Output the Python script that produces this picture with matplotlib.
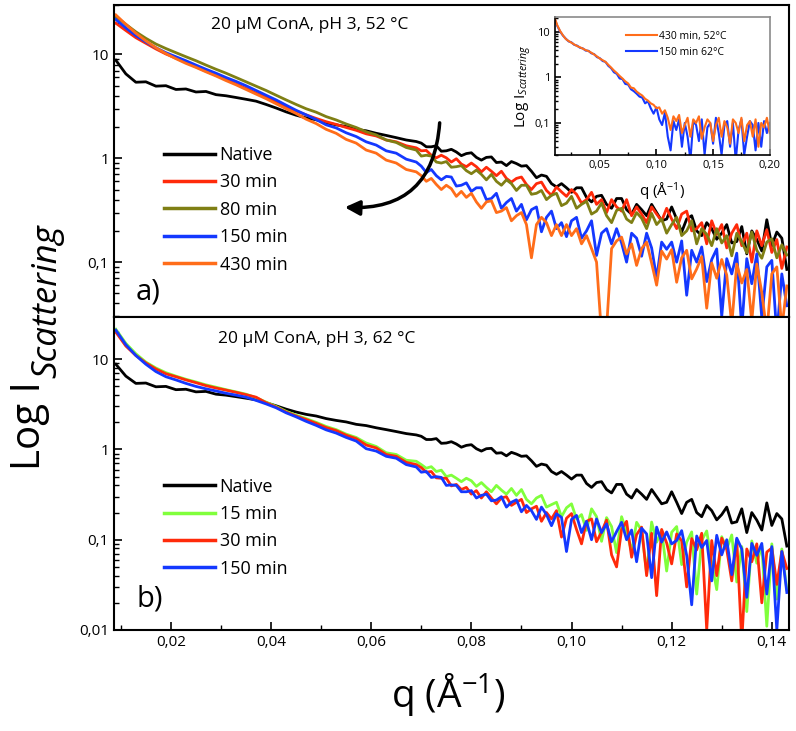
import matplotlib
matplotlib.use("Agg")
import matplotlib.pyplot as plt
import numpy as np
from matplotlib.ticker import LogLocator, FuncFormatter, MultipleLocator, NullFormatter
from matplotlib.patches import FancyArrowPatch

plt.rcParams["font.family"] = "Open Sans"
plt.rcParams["mathtext.fontset"] = "custom"
plt.rcParams["mathtext.rm"] = "Open Sans"
plt.rcParams["mathtext.it"] = "Open Sans:italic"

# q grid of the curves (coarser below 0.07, finer above)
q = np.concatenate([np.linspace(0.009, 0.069, 31), np.linspace(0.070, 0.143, 74)])
q_inset = np.linspace(0.010, 0.200, 77)

native = [8.8, 6.5, 5.4, 5.45, 4.95, 5.0, 4.6, 4.65, 4.35, 4.4, 4.1, 4.0, 3.85, 3.7, 3.55, 3.3,
          3.05, 2.8, 2.6, 2.45, 2.35, 2.2, 2.1, 2.02, 1.9, 1.84, 1.74, 1.66, 1.58, 1.5, 1.45,
          1.40, 1.29, 1.29, 1.32, 1.17, 1.18, 1.22, 1.15, 1.06, 1.11,
          1.13, 1.02, 0.96, 1.02, 1.03, 0.91, 0.92, 0.85, 0.93, 0.89,
          0.84, 0.85, 0.75, 0.65, 0.69, 0.67, 0.57, 0.53, 0.57, 0.52,
          0.47, 0.52, 0.52, 0.42, 0.38, 0.43, 0.44, 0.36, 0.33, 0.41,
          0.41, 0.32, 0.29, 0.36, 0.32, 0.28, 0.36, 0.30, 0.25, 0.26,
          0.34, 0.26, 0.195, 0.26, 0.28, 0.20, 0.18, 0.24, 0.21, 0.166,
          0.19, 0.23, 0.153, 0.158, 0.22, 0.12, 0.20, 0.165, 0.128, 0.256,
          0.144, 0.195, 0.17, 0.085]

# panel a) 52 C
a_30 = [20, 17, 14.5, 12.8, 11.3, 10.1, 9.2, 8.4, 7.6, 6.9, 6.3, 5.75, 5.2, 4.7, 4.25, 3.85,
        3.5, 3.15, 2.85, 2.62, 2.42, 2.25, 2.12, 1.98, 1.86, 1.72, 1.64, 1.5, 1.44, 1.32, 1.26,
        1.18, 1.19, 1.07, 1.01, 1.07, 1.01, 0.92, 0.99, 0.88, 0.83,
        0.90, 0.83, 0.74, 0.82, 0.75, 0.68, 0.75, 0.64, 0.59, 0.64,
        0.66, 0.56, 0.50, 0.57, 0.59, 0.49, 0.44, 0.53, 0.475, 0.43,
        0.50, 0.45, 0.37, 0.40, 0.47, 0.36, 0.40, 0.30, 0.40, 0.34,
        0.31, 0.40, 0.28, 0.34, 0.29, 0.24, 0.34, 0.29, 0.25, 0.33,
        0.26, 0.21, 0.29, 0.31, 0.20, 0.21, 0.24, 0.15, 0.25, 0.185,
        0.23, 0.137, 0.19, 0.23, 0.144, 0.19, 0.10, 0.20, 0.144, 0.205,
        0.124, 0.165, 0.087, 0.14]
a_80 = [23, 19.5, 16.5, 14.3, 12.6, 11.4, 10.4, 9.5, 8.7, 7.9, 7.2, 6.6, 6.0, 5.45, 4.95, 4.5,
        4.05, 3.65, 3.3, 3.0, 2.78, 2.52, 2.34, 2.14, 1.98, 1.8, 1.68, 1.5, 1.42, 1.27, 1.2,
        1.05, 1.07, 1.05, 0.92, 0.90, 0.93, 0.82, 0.83, 0.85, 0.76,
        0.71, 0.77, 0.70, 0.62, 0.70, 0.60, 0.55, 0.62, 0.57, 0.49,
        0.55, 0.55, 0.45, 0.46, 0.49, 0.40, 0.44, 0.46, 0.35, 0.37,
        0.43, 0.33, 0.36, 0.385, 0.29, 0.31, 0.37, 0.28, 0.24, 0.315,
        0.33, 0.26, 0.24, 0.30, 0.265, 0.21, 0.295, 0.23, 0.26, 0.19,
        0.23, 0.27, 0.18, 0.20, 0.25, 0.15, 0.21, 0.185, 0.144, 0.21,
        0.153, 0.18, 0.115, 0.19, 0.157, 0.123, 0.195, 0.13, 0.109, 0.156,
        0.168, 0.11, 0.147, 0.117]
a_150 = [21.7, 18, 15.2, 13.2, 11.6, 10.4, 9.5, 8.7, 7.9, 7.2, 6.6, 6.0, 5.5, 5.0, 4.5, 4.05,
         3.65, 3.25, 2.9, 2.62, 2.36, 2.1, 1.96, 1.76, 1.62, 1.44, 1.34, 1.18, 1.12, 0.98, 0.92,
         0.84, 0.73, 0.78, 0.68, 0.62, 0.67, 0.66, 0.54, 0.55, 0.58,
         0.48, 0.52, 0.52, 0.40, 0.41, 0.46, 0.33, 0.375, 0.41, 0.31,
         0.36, 0.256, 0.32, 0.34, 0.196, 0.27, 0.31, 0.21, 0.24, 0.176,
         0.25, 0.27, 0.17, 0.20, 0.25, 0.116, 0.19, 0.21, 0.15, 0.21,
         0.153, 0.10, 0.19, 0.17, 0.114, 0.19, 0.137, 0.07, 0.156, 0.133,
         0.156, 0.10, 0.16, 0.048, 0.13, 0.10, 0.14, 0.065, 0.106, 0.134,
         0.03, 0.108, 0.077, 0.122, 0.023, 0.108, 0.062, 0.12, 0.029, 0.09,
         0.104, 0.02, 0.077, 0.038]
a_430 = [24, 19.5, 16, 13.5, 11.6, 10.2, 9.1, 8.2, 7.5, 6.8, 6.2, 5.6, 5.1, 4.6, 4.15, 3.75,
         3.35, 3.0, 2.7, 2.38, 2.16, 1.9, 1.74, 1.52, 1.4, 1.2, 1.12, 0.96, 0.9, 0.78, 0.74,
         0.68, 0.60, 0.64, 0.56, 0.50, 0.55, 0.51, 0.43, 0.48, 0.42,
         0.46, 0.38, 0.33, 0.38, 0.39, 0.30, 0.31, 0.335, 0.25, 0.28,
         0.30, 0.23, 0.11, 0.23, 0.27, 0.24, 0.18, 0.23, 0.18, 0.23,
         0.18, 0.21, 0.15, 0.18, 0.135, 0.10, 0.02, 0.023, 0.135, 0.16,
         0.174, 0.12, 0.15, 0.093, 0.135, 0.156, 0.098, 0.06, 0.128, 0.107,
         0.132, 0.064, 0.11, 0.13, 0.069, 0.086, 0.113, 0.036, 0.098, 0.07,
         0.106, 0.075, 0.025, 0.096, 0.063, 0.085, 0.027, 0.096, 0.051, 0.021,
         0.077, 0.09, 0.023, 0.059]

# panel b) 62 C
b_15 = [21.5, 15, 11.5, 9.3, 8.0, 7.1, 6.5, 6.0, 5.6, 5.2, 4.9, 4.6, 4.35, 4.1, 3.75, 3.35,
        3.0, 2.65, 2.4, 2.2, 2.0, 1.8, 1.66, 1.48, 1.36, 1.18, 1.08, 0.92, 0.88, 0.76, 0.74,
        0.68, 0.62, 0.645, 0.57, 0.59, 0.50, 0.52, 0.48, 0.44, 0.48,
        0.45, 0.39, 0.43, 0.38, 0.34, 0.40, 0.355, 0.32, 0.37, 0.31,
        0.36, 0.28, 0.25, 0.29, 0.31, 0.23, 0.245, 0.26, 0.18, 0.226,
        0.25, 0.17, 0.19, 0.127, 0.22, 0.18, 0.096, 0.176, 0.14, 0.072,
        0.18, 0.123, 0.074, 0.156, 0.127, 0.043, 0.157, 0.094, 0.127, 0.045,
        0.121, 0.14, 0.053, 0.094, 0.122, 0.025, 0.098, 0.125, 0.056, 0.028,
        0.108, 0.079, 0.113, 0.034, 0.084, 0.016, 0.097, 0.055, 0.086, 0.011,
        0.09, 0.022, 0.079, 0.028]
b_30 = [20, 14, 11, 9.1, 7.8, 6.9, 6.4, 5.9, 5.5, 5.1, 4.8, 4.55, 4.3, 4.05, 3.8, 3.3,
        2.95, 2.6, 2.35, 2.15, 1.95, 1.75, 1.62, 1.44, 1.32, 1.12, 1.04, 0.88, 0.84, 0.72, 0.68,
        0.63, 0.56, 0.57, 0.485, 0.48, 0.48, 0.395, 0.41, 0.36, 0.38,
        0.32, 0.35, 0.29, 0.34, 0.29, 0.25, 0.29, 0.30, 0.24, 0.26,
        0.28, 0.20, 0.22, 0.235, 0.16, 0.20, 0.17, 0.21, 0.107, 0.173,
        0.195, 0.13, 0.09, 0.16, 0.17, 0.095, 0.122, 0.165, 0.068, 0.05,
        0.13, 0.16, 0.064, 0.114, 0.138, 0.04, 0.118, 0.024, 0.13, 0.092,
        0.054, 0.116, 0.097, 0.03, 0.103, 0.077, 0.118, 0.01, 0.098, 0.04,
        0.104, 0.078, 0.035, 0.10, 0.0074, 0.079, 0.057, 0.09, 0.02, 0.073,
        0.081, 0.032, 0.074, 0.048]
b_150 = [21, 14.5, 11, 8.8, 7.3, 6.4, 5.9, 5.4, 5.0, 4.7, 4.45, 4.2, 4.0, 3.8, 3.5, 3.2,
         2.9, 2.55, 2.3, 2.05, 1.85, 1.65, 1.52, 1.36, 1.24, 1.02, 0.96, 0.84, 0.8, 0.68, 0.64,
         0.56, 0.57, 0.49, 0.50, 0.49, 0.40, 0.405, 0.40, 0.34, 0.34,
         0.35, 0.29, 0.31, 0.32, 0.27, 0.275, 0.30, 0.23, 0.26, 0.277,
         0.204, 0.24, 0.21, 0.168, 0.23, 0.19, 0.143, 0.194, 0.177, 0.074,
         0.168, 0.186, 0.12, 0.16, 0.10, 0.17, 0.12, 0.15, 0.095, 0.123,
         0.156, 0.10, 0.128, 0.057, 0.134, 0.116, 0.038, 0.138, 0.094, 0.122,
         0.09, 0.098, 0.126, 0.067, 0.019, 0.11, 0.082, 0.098, 0.035, 0.112,
         0.068, 0.10, 0.041, 0.104, 0.079, 0.023, 0.091, 0.067, 0.091, 0.025,
         0.084, 0.01, 0.074, 0.026]

# inset: normalised curves up to q = 0.2
inset_430_52 = [21, 14, 10.5, 8.4, 7.0, 6.3, 5.8, 5.3, 4.9, 4.6, 4.3, 4.0, 3.8, 3.5, 3.2, 2.9,
                2.6, 2.4, 2.2, 1.9, 1.65, 1.42, 1.25, 1.08, 0.95, 0.82, 0.74,
                0.60, 0.58, 0.49, 0.44, 0.40, 0.34, 0.31, 0.27, 0.25, 0.21, 0.22, 0.16, 0.19, 0.13,
                0.07, 0.14, 0.11, 0.15, 0.06, 0.09, 0.13, 0.05, 0.12, 0.10, 0.14, 0.045, 0.08,
                0.12, 0.10, 0.04, 0.09, 0.13, 0.05, 0.11, 0.08, 0.035, 0.12, 0.10, 0.06, 0.13,
                0.04, 0.09, 0.11, 0.05, 0.12, 0.03, 0.10, 0.08, 0.13, 0.06]
inset_150_62 = [20, 13.5, 10.2, 8.3, 7.1, 6.2, 5.9, 5.2, 5.0, 4.5, 4.35, 3.9, 3.85, 3.4, 3.25,
                2.8, 2.65, 2.3, 2.2, 1.8, 1.6, 1.3, 1.2, 0.95, 0.92, 0.72, 0.7,
                0.55, 0.5, 0.44, 0.38, 0.36, 0.27, 0.30, 0.21, 0.16, 0.22, 0.12, 0.09, 0.17, 0.05,
                0.025, 0.11, 0.07, 0.12, 0.03, 0.10, 0.05, 0.015, 0.11, 0.09, 0.04, 0.12, 0.02,
                0.08, 0.10, 0.035, 0.13, 0.06, 0.02, 0.09, 0.11, 0.03, 0.10, 0.015, 0.07, 0.12,
                0.02, 0.05, 0.11, 0.09, 0.025, 0.10, 0.03, 0.11, 0.06, 0.1]

BLACK = "#000000"
RED = "#ff2a0a"
OLIVE = "#7f7f14"
BLUE = "#1438ff"
ORANGE = "#ff6d1a"
GREEN = "#80ff3c"


def ylab(v, pos):
    return f"{v:g}".replace(".", ",")


def style_log(ax, labelsize=11):
    ax.set_yscale("log")
    ax.yaxis.set_major_locator(LogLocator(base=10))
    ax.yaxis.set_minor_locator(LogLocator(base=10, subs=np.arange(2, 10)))
    ax.yaxis.set_major_formatter(FuncFormatter(ylab))
    ax.yaxis.set_minor_formatter(NullFormatter())
    ax.tick_params(which="both", direction="in", right=False, top=False, labelsize=labelsize)
    ax.tick_params(which="major", length=6, width=1.2)
    ax.tick_params(which="minor", length=3.5, width=1.0)
    for s in ax.spines.values():
        s.set_linewidth(1.5)


fig = plt.figure(figsize=(7.96, 7.31), dpi=100)
ax1 = fig.add_axes([0.143, 0.5663, 0.848, 0.427])
ax2 = fig.add_axes([0.143, 0.1382, 0.848, 0.428])

lw = 2.0
ax1.plot(q, native, color=BLACK, lw=lw, label="Native")
ax1.plot(q, a_30, color=RED, lw=lw, label="30 min")
ax1.plot(q, a_80, color=OLIVE, lw=lw, label="80 min")
ax1.plot(q, a_150, color=BLUE, lw=lw, label="150 min")
ax1.plot(q, a_430, color=ORANGE, lw=lw, label="430 min")

ax2.plot(q, native, color=BLACK, lw=lw, label="Native")
ax2.plot(q, b_15, color=GREEN, lw=lw, label="15 min")
ax2.plot(q, b_30, color=RED, lw=lw, label="30 min")
ax2.plot(q, b_150, color=BLUE, lw=lw, label="150 min")

for ax in (ax1, ax2):
    style_log(ax)
    ax.set_xlim(0.0086, 0.1434)
    ax.xaxis.set_major_locator(MultipleLocator(0.02))
    ax.xaxis.set_minor_locator(MultipleLocator(0.01))
    ax.xaxis.set_major_formatter(FuncFormatter(lambda v, p: f"{v:.2f}".replace(".", ",")))

ax1.set_ylim(0.0296, 30)
ax2.set_ylim(0.01, 29.3)
ax1.tick_params(axis="x", which="both", bottom=False, labelbottom=False)

ax1.text(0.29, 0.935, "20 μM ConA, pH 3, 52 °C", transform=ax1.transAxes,
         ha="center", va="center", fontsize=12.5)
ax2.text(0.30, 0.93, "20 μM ConA, pH 3, 62 °C", transform=ax2.transAxes,
         ha="center", va="center", fontsize=12.5)
ax1.text(0.05, 0.08, "a)", transform=ax1.transAxes, ha="center", va="center", fontsize=21)
ax2.text(0.053, 0.1, "b)", transform=ax2.transAxes, ha="center", va="center", fontsize=21)

leg_kw = dict(loc="upper left", frameon=False, fontsize=13, handlelength=2.8,
              handletextpad=0.25, labelspacing=0.52, borderpad=0, borderaxespad=0)
l1 = ax1.legend(bbox_to_anchor=(0.075, 0.548), **leg_kw)
l2 = ax2.legend(bbox_to_anchor=(0.075, 0.487), **leg_kw)
for leg in (l1, l2):
    for h in leg.get_lines():
        h.set_linewidth(2.5)

arrow = FancyArrowPatch((0.483, 0.631), (0.338, 0.352), transform=ax1.transAxes,
                        connectionstyle="arc3,rad=-0.5", arrowstyle="-|>",
                        mutation_scale=22, lw=2.5, color=BLACK, zorder=5)
ax1.add_patch(arrow)

# y label: "Log I" with a large italic subscript
t_main = fig.text(0.038, 1 - 470 / 731, "Log I", rotation=90, ha="center", va="bottom",
                  fontsize=29)
fig.canvas.draw()
bb = t_main.get_window_extent()
y_top = bb.y1 / fig.bbox.height
fig.text(0.059, y_top + 0.004, "Scattering", rotation=90, ha="center", va="bottom",
         fontsize=25, style="italic")

fig.text(0.563, 0.048, r"q (Å$^{-1}$)", ha="center", va="center", fontsize=28)

# inset
axi = fig.add_axes([0.697, 0.788, 0.270, 0.189])
axi.plot(q_inset, inset_150_62, color=BLUE, lw=1.5, label="150 min 62°C")
axi.plot(q_inset, inset_430_52, color=ORANGE, lw=1.5, label="430 min, 52°C")
style_log(axi, labelsize=8)
axi.tick_params(which="major", length=4)
axi.tick_params(which="minor", length=2)
for s in axi.spines.values():
    s.set_linewidth(1.2)
axi.spines["top"].set_color("#8a8a8a")
axi.spines["right"].set_color("#8a8a8a")
axi.set_xlim(0.0103, 0.2)
axi.set_ylim(0.0198, 21.5)
axi.xaxis.set_major_locator(MultipleLocator(0.05))
axi.xaxis.set_minor_locator(MultipleLocator(0.025))
axi.xaxis.set_major_formatter(FuncFormatter(lambda v, p: f"{v:.2f}".replace(".", ",")))
axi.set_ylabel(r"Log I$_{\mathit{Scattering}}$", fontsize=11, labelpad=1)
axi.set_xlabel(r"q (Å$^{-1}$)", fontsize=11, labelpad=7)
h, lab = axi.get_legend_handles_labels()
axi.legend(h[::-1], lab[::-1], loc="upper left", bbox_to_anchor=(0.33, 0.9), frameon=False,
           fontsize=7.5, handlelength=3.0, handletextpad=0.2, labelspacing=0.5,
           borderpad=0, borderaxespad=0)

fig.savefig("out.png", dpi=100)
